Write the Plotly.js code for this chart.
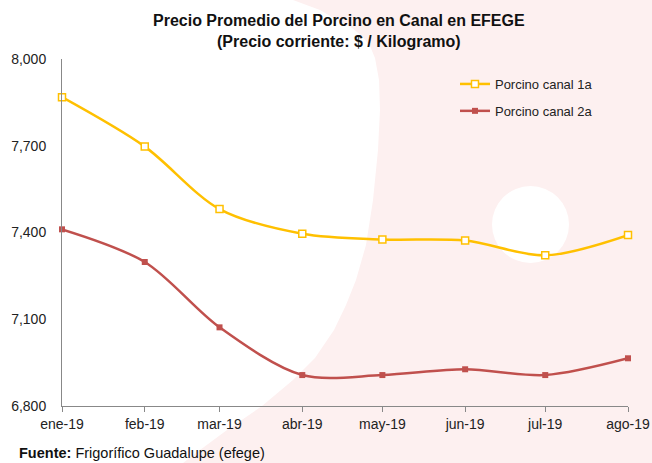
<!DOCTYPE html>
<html>
<head>
<meta charset="utf-8">
<script src="https://cdn.plot.ly/plotly-3.0.1.min.js"></script>
<style>html,body{margin:0;padding:0;background:#fff;}#chart{width:652px;height:463px;}</style>
</head>
<body>
<div id="chart"></div>
<script>
// ---- data ----
var categories = ['ene-19','feb-19','mar-19','abr-19','may-19','jun-19','jul-19','ago-19'];
var dates = ['2019-01-01','2019-02-01','2019-03-01','2019-04-01','2019-05-01','2019-06-01','2019-07-01','2019-08-01'];
var canal1a = [7868, 7697, 7481, 7396, 7376, 7372, 7321, 7391];
var canal2a = [7411, 7298, 7072, 6907, 6907, 6927, 6907, 6965];
var yTicks = [6800, 7100, 7400, 7700, 8000];
var yTickLabels = ['6,800','7,100','7,400','7,700','8,000'];

// ---- layout helpers (decoration only) ----
var W = 652, H = 463, L = 62, R = 24, T = 59, B = 57;
var PW = W - L - R, PH = H - T - B;
function px(x){ return ((x - L) / PW).toFixed(4); }
function py(y){ return ((H - B - y) / PH).toFixed(4); }
function pathFrom(pts){
  return pts.map(function(p,i){ return (i===0?'M ':'L ') + px(p[0]) + ',' + py(p[1]); }).join(' ') + ' Z';
}
var whiteBlob = [[0,0],[293,0],[320,10],[337,20],[352,28],[362,36],[370,46],[375,58],[379,80],[380,110],[378,150],[373,200],[366,245],[356,280],[346,305],[334,330],[315,358],[293,380],[262,406],[227,430],[200,450],[183,463],[0,463]];

var font = 'Liberation Sans, Arial, sans-serif';
var traces = [
  {x: dates, y: canal1a, name: 'Porcino canal 1a', legendgroup: 'a', type: 'scatter', mode: 'lines+markers',
   line: {color: '#FFC000', width: 2.5, shape: 'spline', smoothing: 0.9},
   marker: {symbol: 'square', size: 7, color: '#ffffff', line: {color: '#FFC000', width: 1.5}},
   cliponaxis: false, hoverinfo: 'skip'},
  {x: dates, y: canal2a, name: 'Porcino canal 2a', legendgroup: 'b', type: 'scatter', mode: 'lines+markers',
   line: {color: '#C0504D', width: 2.5, shape: 'spline', smoothing: 0.9},
   marker: {symbol: 'square', size: 6, color: '#C0504D'},
   cliponaxis: false, hoverinfo: 'skip'}
];

var layout = {
  width: W, height: H,
  margin: {l: L, r: R, t: T, b: B},
  paper_bgcolor: '#FDF0F0',
  plot_bgcolor: 'rgba(0,0,0,0)',
  font: {family: font, color: '#222', size: 13},
  xaxis: {
    type: 'date',
    range: [dates[0], dates[dates.length - 1]],
    tickvals: dates, ticktext: categories,
    showgrid: false, zeroline: false,
    showline: true, linecolor: '#888', linewidth: 1,
    ticks: 'outside', ticklen: 5, tickcolor: '#888',
    tickfont: {family: font, size: 14, color: '#222'},
    fixedrange: true
  },
  yaxis: {
    range: [6800, 8000],
    tickvals: yTicks, ticktext: yTickLabels,
    showgrid: false, zeroline: false,
    showline: true, linecolor: '#888', linewidth: 1,
    ticks: '', ticklabelstandoff: 12,
    tickfont: {family: font, size: 14, color: '#222'},
    fixedrange: true
  },
  showlegend: true,
  legend: {
    x: px(455), y: py(69), xanchor: 'left', yanchor: 'top',
    bgcolor: 'rgba(0,0,0,0)',
    font: {family: font, size: 13, color: '#222'},
    tracegroupgap: 7,
    itemwidth: 30
  },
  shapes: [
    {type: 'path', xref: 'paper', yref: 'paper', path: pathFrom(whiteBlob), fillcolor: '#ffffff', line: {width: 0}, layer: 'below'},
    {type: 'circle', xref: 'paper', yref: 'paper', x0: px(492), x1: px(569), y0: py(186), y1: py(263), fillcolor: '#ffffff', line: {width: 0}, layer: 'below'}
  ],
  annotations: [
    {xref: 'paper', yref: 'paper', x: px(339), y: py(30.5), xanchor: 'center', yanchor: 'middle', showarrow: false,
     text: '<b>Precio Promedio del Porcino en Canal en EFEGE</b><br><b>(Precio corriente: $ / Kilogramo)</b>',
     font: {family: font, size: 16, color: '#111'}},
    {xref: 'paper', yref: 'paper', x: px(17), y: py(453), xanchor: 'left', yanchor: 'middle', showarrow: false,
     text: '<b>Fuente:</b> Frigorífico Guadalupe (efege)', font: {family: font, size: 14.5, color: '#111'}}
  ]
};

Plotly.newPlot('chart', traces, layout, {displayModeBar: false, staticPlot: true});
</script>
</body>
</html>
